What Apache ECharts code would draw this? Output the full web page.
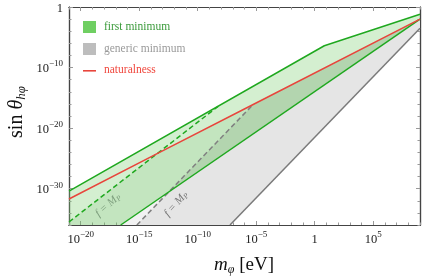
<!DOCTYPE html>
<html><head><meta charset="utf-8">
<script src="https://cdn.jsdelivr.net/npm/echarts@6/dist/echarts.min.js"></script>
<style>html,body{margin:0;padding:0;background:#fff}#c{width:423px;height:277px}</style>
</head><body><div id="c"></div>
<script>
// log10(m_phi / eV) vs log10(sin theta)
var upperGreen  = [[-21, -30.4], [0.82, -6.4], [9, -1.2]];
var lowerGreen  = [[-16.58, -36], [9, -2.0]];
var naturalness = [[-21, -31.7], [-13.55, -24.3], [-5.26, -16.1], [9, -2.0]];
var greenDashed = [[-21, -35.5], [-8.25, -16.4]];
var grayDashed  = [[-15.2, -36], [-5.26, -16.1]];
var graySolid   = [[-7.24, -36], [9, -3.5]];
var xMajor = [-20, -15, -10, -5, 0, 5];
var xMinor = []; for (var i = -21; i <= 9; i++) xMinor.push(i);
var yMajor = [0, -10, -20, -30];
var yMinor = []; for (var j = -36; j <= 0; j += 2) yMinor.push(j);
var xRange = [-21, 9], yRange = [-36, 0];

var FONT = 'Liberation Serif';
var green = '#1fa81f', red = '#e8453c';

// polygons built from the arrays above
var greenBand = upperGreen.concat(lowerGreen.slice().reverse(), [[xRange[0], yRange[0]]]);
var greenDark = [greenDashed[0], naturalness[1], naturalness[2], naturalness[3]]
  .concat(lowerGreen.slice().reverse(), [[xRange[0], yRange[0]]]);
var grayFaint = [lowerGreen[0], graySolid[0], graySolid[1], lowerGreen[1]];
var grayBand = [grayDashed[0], grayDashed[1], naturalness[3], graySolid[1], graySolid[0]];

function poly(name, pts, color, z) {
  return {type: 'custom', name: name, data: [[0, 0]], silent: true, z: z, clip: true,
    renderItem: function (p, api) {
      return {type: 'polygon', shape: {points: pts.map(function (q) { return api.coord(q); })},
        style: {fill: color}};
    }};
}
function line(pts, color, dash, z) {
  return {type: 'line', data: pts, symbol: 'none', silent: true, z: z,
    lineStyle: {color: color, width: 1.5, type: dash ? [5, 3] : 'solid'}};
}
function fmt(v) {
  if (v === 0) return '{b|1}';
  return '{b|10}{s|' + (v < 0 ? '\u2212' : '') + Math.abs(v) + '}';
}
var rich = {
  b: {fontSize: 12.5, fontFamily: FONT, color: '#222', lineHeight: 16, verticalAlign: 'bottom'},
  s: {fontSize: 9, fontFamily: FONT, color: '#222', lineHeight: 16, verticalAlign: 'top'}
};
var axLine = {show: true, onZero: false, lineStyle: {color: '#444', width: 1.2}};
function xAx(pos, ticks, len, labels) {
  return {type: 'value', min: xRange[0], max: xRange[1], position: pos, splitLine: {show: false},
    axisLine: axLine,
    axisTick: {show: true, inside: true, length: len, customValues: ticks, lineStyle: {color: '#999', width: 1}},
    axisLabel: labels ? {show: true, customValues: xMajor, formatter: fmt, rich: rich, margin: 5} : {show: false}};
}
function yAx(pos, ticks, len, labels) {
  return {type: 'value', min: yRange[0], max: yRange[1], position: pos, splitLine: {show: false},
    axisLine: axLine,
    axisTick: {show: true, inside: true, length: len, customValues: ticks, lineStyle: {color: '#999', width: 1}},
    axisLabel: labels ? {show: true, customValues: yMajor, formatter: fmt, rich: rich, margin: 6} : {show: false}};
}

var chart = echarts.init(document.getElementById('c'), null, {renderer: 'canvas'});
chart.setOption({
  animation: false,
  grid: {left: 69, right: 3, top: 7, bottom: 52, containLabel: false},
  xAxis: [xAx('bottom', xMajor, 4, true), xAx('bottom', xMinor, 2.5, false),
          xAx('top', xMajor, 4, false), xAx('top', xMinor, 2.5, false)],
  yAxis: [yAx('left', yMajor, 4, true), yAx('left', yMinor, 2.5, false),
          yAx('right', yMajor, 4, false), yAx('right', yMinor, 2.5, false)],
  series: [
    poly('faint', grayFaint, '#f2f2f2', 1),
    poly('generic minimum', grayBand, '#e5e5e5', 2),
    poly('first minimum', greenBand, 'rgba(120,205,110,0.32)', 3),
    poly('first minimum f<MP', greenDark, 'rgba(90,170,85,0.14)', 4),
    line(graySolid, '#7a7a7a', false, 5),
    line(grayDashed, '#808080', true, 5),
    line(greenDashed, green, true, 6),
    line(upperGreen, green, false, 6),
    line(lowerGreen, green, false, 6),
    line(naturalness, red, false, 7)
  ],
  graphic: [
    {type: 'rect', z: 100, left: 83, top: 21, shape: {width: 13, height: 12}, style: {fill: '#6fcf62'}},
    {type: 'text', z: 100, left: 104, top: 20.5, style: {text: 'first minimum', font: '11.5px ' + FONT, fill: '#3a9a3a'}},
    {type: 'rect', z: 100, left: 83, top: 43, shape: {width: 13, height: 12}, style: {fill: '#bdbdbd'}},
    {type: 'text', z: 100, left: 104, top: 42.5, style: {text: 'generic minimum', font: '11.5px ' + FONT, fill: '#9a9a9a'}},
    {type: 'rect', z: 100, left: 83, top: 70, shape: {width: 13, height: 1.6}, style: {fill: red}},
    {type: 'text', z: 100, left: 104, top: 64, style: {text: 'naturalness', font: '11.5px ' + FONT, fill: '#f0473d'}},
    {type: 'text', z: 100, x: 108, y: 205, rotation: 0.72,
      style: {text: '{i|f = M}{p|P}', align: 'center', verticalAlign: 'middle',
        rich: {i: {fontSize: 11, fontFamily: FONT, fontStyle: 'italic', fill: '#7fa07f'},
               p: {fontSize: 7.5, fontFamily: FONT, fontStyle: 'italic', fill: '#7fa07f', padding: [5, 0, 0, 0]}}}},
    {type: 'text', z: 100, x: 176, y: 204, rotation: 0.84,
      style: {text: '{i|f = M}{p|P}', align: 'center', verticalAlign: 'middle',
        rich: {i: {fontSize: 11, fontFamily: FONT, fontStyle: 'italic', fill: '#777'},
               p: {fontSize: 7.5, fontFamily: FONT, fontStyle: 'italic', fill: '#777', padding: [5, 0, 0, 0]}}}},
    {type: 'text', z: 100, x: 17, y: 112, rotation: Math.PI / 2,
      style: {text: '{a|sin }{t|\u03b8}{s|h\u03c6}', align: 'center', verticalAlign: 'middle',
        rich: {a: {fontSize: 20, fontFamily: FONT, fill: '#111'},
               t: {fontSize: 20, fontFamily: FONT, fontStyle: 'italic', fill: '#111'},
               s: {fontSize: 13, fontFamily: FONT, fontStyle: 'italic', fill: '#111', padding: [9, 0, 0, 0]}}}},
    {type: 'text', z: 100, x: 244, y: 265,
      style: {text: '{m|m}{s|\u03c6}{a| [eV]}', align: 'center', verticalAlign: 'middle',
        rich: {m: {fontSize: 19, fontFamily: FONT, fontStyle: 'italic', fill: '#111'},
               s: {fontSize: 12, fontFamily: FONT, fontStyle: 'italic', fill: '#111', padding: [9, 0, 0, 0]},
               a: {fontSize: 19, fontFamily: FONT, fill: '#111'}}}}
  ]
});
</script></body></html>
